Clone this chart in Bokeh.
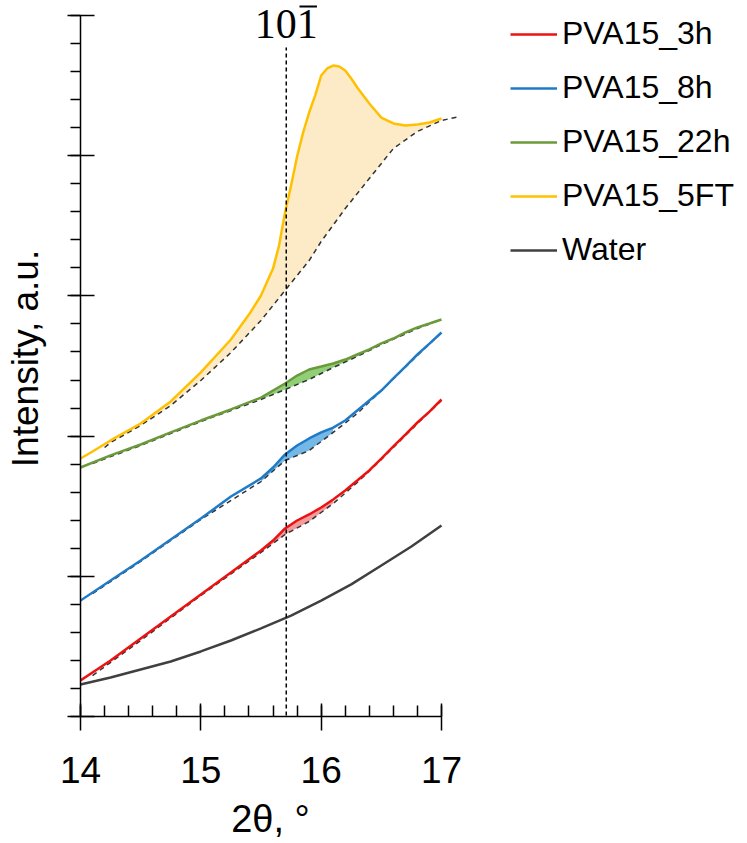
from bokeh.plotting import figure
from bokeh.models import (Range1d, SingleIntervalTicker, Legend, LegendItem, Label,
                          CustomJSTickFormatter)
from bokeh.embed import file_html
from bokeh.resources import INLINE

# ---------------- data ----------------
x_main = [14.0, 14.25, 14.5, 14.75, 15.0, 15.25, 15.5, 15.6, 15.7, 15.8, 15.9,
          16.0, 16.1, 16.2, 16.3, 16.4, 16.5, 16.6, 16.7, 16.8, 16.9, 17.0]
y_3h = [0.257, 0.399, 0.556, 0.713, 0.870, 1.027, 1.184, 1.255, 1.341, 1.398, 1.441,
        1.491, 1.548, 1.612, 1.683, 1.755, 1.840, 1.926, 2.011, 2.097, 2.175, 2.261]
y_8h = [0.827, 0.970, 1.113, 1.262, 1.412, 1.569, 1.698, 1.776, 1.869, 1.933, 1.983,
        2.026, 2.061, 2.111, 2.183, 2.254, 2.325, 2.411, 2.496, 2.582, 2.660, 2.739]
y_22h = [1.776, 1.862, 1.940, 2.026, 2.111, 2.190, 2.275, 2.325, 2.375, 2.432, 2.475,
         2.496, 2.518, 2.546, 2.582, 2.618, 2.661, 2.696, 2.739, 2.775, 2.803, 2.832]

x_5ft = [14.0, 14.1, 14.25, 14.5, 14.75, 15.0, 15.25, 15.4, 15.5, 15.6, 15.65, 15.7,
         15.75, 15.8, 15.85, 15.9, 15.95, 16.0, 16.05, 16.1, 16.15, 16.2, 16.25, 16.3,
         16.35, 16.4, 16.45, 16.5, 16.6, 16.7, 16.8, 16.9, 17.0]
y_5ft = [1.840, 1.890, 1.969, 2.090, 2.247, 2.454, 2.689, 2.867, 3.003, 3.195, 3.359, 3.595,
         3.787, 3.994, 4.165, 4.308, 4.429, 4.572, 4.622, 4.643, 4.636, 4.608, 4.551, 4.486,
         4.429, 4.372, 4.322, 4.272, 4.230, 4.215, 4.223, 4.237, 4.265]

x_water = [14.0, 14.25, 14.5, 14.75, 15.0, 15.25, 15.5, 15.75, 16.0, 16.25, 16.5, 16.75, 17.0]
y_water = [0.228, 0.278, 0.335, 0.392, 0.464, 0.542, 0.628, 0.720, 0.827, 0.942, 1.077,
           1.213, 1.362]

# baselines (dashed)
x_base = [14.1, 14.5, 15.0, 15.5, 15.7, 15.9, 16.1, 16.3, 16.5, 16.8, 17.0]
base_3h = [0.292, 0.542, 0.863, 1.170, 1.298, 1.391, 1.519, 1.669, 1.833, 2.090, 2.254]
base_8h = [0.877, 1.106, 1.405, 1.676, 1.826, 1.897, 2.026, 2.161, 2.325, 2.575, 2.739]
base_22h = [1.805, 1.933, 2.104, 2.261, 2.332, 2.404, 2.489, 2.568, 2.653, 2.767, 2.832]
x_base_5ft = [14.2, 14.25, 14.5, 14.75, 15.0, 15.25, 15.5, 15.7, 15.9, 16.0, 16.2, 16.4,
              16.6, 16.8, 17.0, 17.15]
base_5ft = [1.919, 1.954, 2.076, 2.218, 2.397, 2.596, 2.825, 3.039, 3.252, 3.388, 3.623,
            3.837, 4.051, 4.173, 4.251, 4.280]

fill_range_3h = (15.5, 16.1)
fill_range_8h = (15.5, 16.1)
fill_range_22h = (15.5, 16.6)
fill_range_5ft = (14.2, 17.0)

peak_pos = 15.71          # 2-theta of the (1 0 -1) reflection
peak_label = "101"        # the bar over the last index is drawn as a short line
series_names = ["PVA15_3h", "PVA15_8h", "PVA15_22h", "PVA15_5FT", "Water"]

# ---------------- styling ----------------
C_RED, C_BLUE, C_GREEN, C_YEL, C_WAT = "#ee1111", "#1f7bc8", "#6b9a3a", "#ffc000", "#404040"
F_RED, F_BLUE, F_GREEN, F_YEL = "#f39a9a", "#74b8e8", "#90cf78", "#fcebc6"
SANS = "Liberation Sans"

PX_X = 120.33   # px per degree
PX_Y = 140.2    # px per unit
FW, FH = 380, 716
LABEL_Y = 4.936   # baseline of the reflection label
BAR_DX0, BAR_DX1, BAR_DY = 0.11, 0.255, 0.128   # overline placement relative to the label

p = figure(frame_width=FW, frame_height=FH,
           x_range=Range1d(14, 14 + FW / PX_X), y_range=Range1d(0, FH / PX_Y),
           min_border_left=80, min_border_right=280, min_border_top=0, min_border_bottom=125,
           output_backend="svg", toolbar_location=None)
p.outline_line_color = None
p.xgrid.grid_line_color = None
p.ygrid.grid_line_color = None
p.background_fill_color = "white"
p.border_fill_color = "white"

xa = p.xaxis[0]
xa.ticker = SingleIntervalTicker(interval=1, num_minor_ticks=5)
xa.bounds = (14, 17)
xa.axis_line_color = "black"
xa.axis_line_width = 1.5
xa.major_tick_line_width = 1.5
xa.minor_tick_line_width = 1.5
xa.major_tick_in = 13
xa.major_tick_out = 14
xa.minor_tick_in = 11
xa.minor_tick_out = 0
xa.major_label_text_font = SANS
xa.major_label_text_font_size = "37px"
xa.major_label_text_color = "black"
xa.major_label_standoff = 26
xa.axis_label = "2\u03b8, \u00b0"
xa.axis_label_text_font = SANS
xa.axis_label_text_font_size = "38px"
xa.axis_label_text_font_style = "normal"
xa.axis_label_text_color = "black"
xa.axis_label_standoff = 12

ya = p.yaxis[0]
ya.ticker = SingleIntervalTicker(interval=1, num_minor_ticks=5)
ya.bounds = (0, 5)
ya.axis_line_width = 1.5
ya.major_tick_line_width = 1.5
ya.minor_tick_line_width = 1.5
ya.major_tick_in = 14
ya.major_tick_out = 13
ya.minor_tick_in = 0
ya.minor_tick_out = 10
ya.formatter = CustomJSTickFormatter(code="return ''")
ya.major_label_standoff = 0
ya.axis_label = "Intensity, a.u."
ya.axis_label_text_font = SANS
ya.axis_label_text_font_size = "37px"
ya.axis_label_text_font_style = "normal"
ya.axis_label_text_color = "black"
ya.axis_label_standoff = 22


def fill_poly(xc, yc, xb, yb, rng):
    lo, hi = rng
    px = [x for x in xc if lo <= x <= hi]
    py = [y for x, y in zip(xc, yc) if lo <= x <= hi]
    bx = [x for x in xb if lo <= x <= hi]
    by = [y for x, y in zip(xb, yb) if lo <= x <= hi]
    return px + bx[::-1], py + by[::-1]


for xc, yc, xb, yb, rng, fc in [
    (x_5ft, y_5ft, x_base_5ft, base_5ft, fill_range_5ft, F_YEL),
    (x_main, y_22h, x_base, base_22h, fill_range_22h, F_GREEN),
    (x_main, y_8h, x_base, base_8h, fill_range_8h, F_BLUE),
    (x_main, y_3h, x_base, base_3h, fill_range_3h, F_RED),
]:
    fx, fy = fill_poly(xc, yc, xb, yb, rng)
    p.patch(fx, fy, fill_color=fc, line_color=None)

for xb, yb in [(x_base, base_3h), (x_base, base_8h), (x_base, base_22h), (x_base_5ft, base_5ft)]:
    p.line(xb, yb, line_color="#333333", line_width=1.5, line_dash="5 4")

r_w = p.line(x_water, y_water, line_color=C_WAT, line_width=2.5)
r_3 = p.line(x_main, y_3h, line_color=C_RED, line_width=2.5)
r_8 = p.line(x_main, y_8h, line_color=C_BLUE, line_width=2.5)
r_22 = p.line(x_main, y_22h, line_color=C_GREEN, line_width=2.5)
r_5 = p.line(x_5ft, y_5ft, line_color=C_YEL, line_width=2.5)

# vertical reference line at the (10-1) reflection
p.segment(x0=[peak_pos], y0=[-0.043], x1=[peak_pos], y1=[4.772],
          line_color="black", line_width=1.5, line_dash="4 3")
p.add_layout(Label(x=peak_pos, y=LABEL_Y, text=peak_label, text_align="center",
                   text_baseline="alphabetic", text_font="Liberation Serif",
                   text_font_size="42px", text_color="black"))
# bar over the last Miller index
p.segment(x0=[peak_pos + BAR_DX0], y0=[LABEL_Y + BAR_DY],
          x1=[peak_pos + BAR_DX1], y1=[LABEL_Y + BAR_DY],
          line_color="black", line_width=2)

legend = Legend(items=[LegendItem(label=n, renderers=[r]) for n, r in
                       zip(series_names, [r_3, r_8, r_22, r_5, r_w])],
                location=(50, 446), orientation="vertical",
                glyph_width=47, glyph_height=20, label_standoff=5, label_height=41,
                spacing=13, padding=0, margin=0, border_line_color=None,
                background_fill_alpha=0, label_text_font=SANS,
                label_text_font_size="32px", label_text_color="black")
p.add_layout(legend, "right")

open("out.html", "w").write(file_html(p, INLINE))
